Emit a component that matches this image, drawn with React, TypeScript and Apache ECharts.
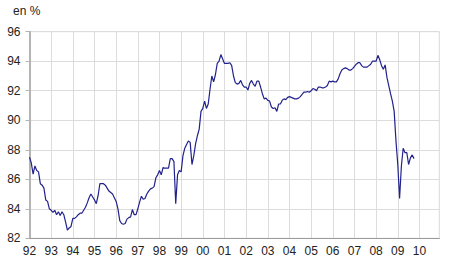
import React, { useEffect, useRef } from "react";
import * as echarts from "echarts";

const startYear = 1992;
const endYear = 2010;

const yTicks = { min: 82, max: 96, interval: 2 };

const v1992 = [87.5, 87.1, 86.35, 86.9, 86.6, 86.5, 85.7, 85.6, 85.4, 84.6, 84.5, 84.0];
const v1993 = [83.9, 83.75, 83.9, 83.6, 83.8, 83.55, 83.8, 83.6, 83.1, 82.55, 82.7, 82.8];
const v1994 = [83.35, 83.35, 83.45, 83.6, 83.7, 83.7, 83.9, 84.1, 84.4, 84.75, 85.0, 84.8];
const v1995 = [84.6, 84.35, 84.9, 85.7, 85.7, 85.7, 85.6, 85.4, 85.2, 85.1, 85.0, 84.75];
const v1996 = [84.5, 84.0, 83.2, 83.0, 82.95, 83.0, 83.3, 83.4, 83.45, 83.95, 83.6, 83.6];
const v1997 = [84.0, 84.45, 84.85, 84.65, 84.7, 85.0, 85.2, 85.35, 85.4, 85.5, 86.1, 86.3];
const v1998 = [86.6, 86.3, 86.8, 86.75, 86.75, 86.75, 87.4, 87.4, 87.2, 84.35, 86.3, 86.6];
const v1999 = [86.5, 87.6, 88.1, 88.35, 88.6, 88.5, 87.0, 87.6, 88.4, 88.95, 89.4, 90.6];
const v2000 = [90.8, 91.3, 90.8, 91.1, 92.1, 93.0, 92.6, 93.1, 93.85, 94.0, 94.45, 94.15];
const v2001 = [93.85, 93.85, 93.85, 93.9, 93.7, 93.0, 92.55, 92.45, 92.5, 92.7, 92.4, 92.25];
const v2002 = [92.25, 92.05, 92.5, 92.7, 92.45, 92.3, 92.65, 92.65, 92.25, 91.8, 91.45, 91.5];
const v2003 = [91.35, 91.3, 90.9, 90.8, 90.85, 90.6, 91.1, 91.1, 91.35, 91.45, 91.4, 91.55];
const v2004 = [91.6, 91.55, 91.5, 91.45, 91.45, 91.5, 91.6, 91.75, 91.9, 91.9, 91.95, 91.9];
const v2005 = [92.0, 92.15, 92.1, 92.0, 92.25, 92.25, 92.2, 92.2, 92.25, 92.35, 92.65, 92.6];
const v2006 = [92.65, 92.6, 92.6, 92.8, 93.15, 93.4, 93.5, 93.55, 93.5, 93.4, 93.4, 93.5];
const v2007 = [93.65, 93.8, 93.9, 93.9, 93.7, 93.6, 93.6, 93.6, 93.7, 93.8, 94.0, 94.0];
const v2008 = [94.0, 94.4, 94.1, 93.7, 93.45, 93.75, 92.9, 92.35, 91.8, 91.3, 90.6, 88.6];
const v2009 = [87.0, 84.7, 86.9, 88.1, 87.8, 87.8, 87.0, 87.45, 87.65, 87.4];

const values = [
  ...v1992, ...v1993, ...v1994, ...v1995, ...v1996, ...v1997, ...v1998, ...v1999,
  ...v2000, ...v2001, ...v2002, ...v2003, ...v2004, ...v2005, ...v2006, ...v2007,
  ...v2008, ...v2009,
];

const months: string[] = [];
for (let y = startYear; y <= endYear; y++) {
  for (let m = 1; m <= 12; m++) {
    months.push(`${y}-${m < 10 ? "0" + m : m}`);
  }
}

const unitLabel = "en %";

const FONT = "'Liberation Sans', Arial, sans-serif";

export default function App() {
  const ref = useRef<HTMLDivElement>(null);
  useEffect(() => {
    if (!ref.current) return;
    const chart = echarts.init(ref.current, undefined, { renderer: "svg" });
    chart.setOption({
      animation: false,
      backgroundColor: "#ffffff",
      grid: {
        left: 29.5,
        right: 10.7,
        top: 31.7,
        bottom: 40.7,
        show: true,
        borderColor: "#d9d9d9",
        borderWidth: 1,
        outerBoundsMode: "none",
      },
      graphic: [
        {
          type: "text",
          left: 13,
          top: 5,
          style: { text: unitLabel, fontSize: 12, fontFamily: FONT, fill: "#222" },
        },
      ],
      xAxis: {
        type: "category",
        data: months,
        boundaryGap: false,
        axisLine: { show: true, lineStyle: { color: "#9a9a9a", width: 1 } },
        axisTick: { show: false },
        axisLabel: {
          interval: (i: number) => i % 12 === 0,
          formatter: (v: string) => v.slice(2, 4),
          fontSize: 12,
          fontFamily: FONT,
          color: "#222",
          margin: 7,
        },
        splitLine: {
          show: true,
          interval: (i: number) => i % 12 === 0,
          lineStyle: { color: "#dcdcdc", width: 1 },
        },
      },
      yAxis: {
        type: "value",
        min: yTicks.min,
        max: yTicks.max,
        interval: yTicks.interval,
        axisLine: { show: true, lineStyle: { color: "#b4b4b4", width: 2 } },
        axisTick: { show: true, length: 4, lineStyle: { color: "#b4b4b4" } },
        axisLabel: {
          fontSize: 12,
          fontFamily: FONT,
          color: "#222",
          margin: 9,
        },
        splitLine: { show: true, lineStyle: { color: "#dcdcdc", width: 1 } },
      },
      series: [
        {
          type: "line",
          data: values,
          showSymbol: false,
          symbol: "none",
          lineStyle: { color: "#22228c", width: 1.2 },
        },
      ],
    });
    return () => chart.dispose();
  }, []);
  return (
    <div
      ref={ref}
      style={{ position: "absolute", left: 0, top: 0, width: 450, height: 279 }}
    />
  );
}
